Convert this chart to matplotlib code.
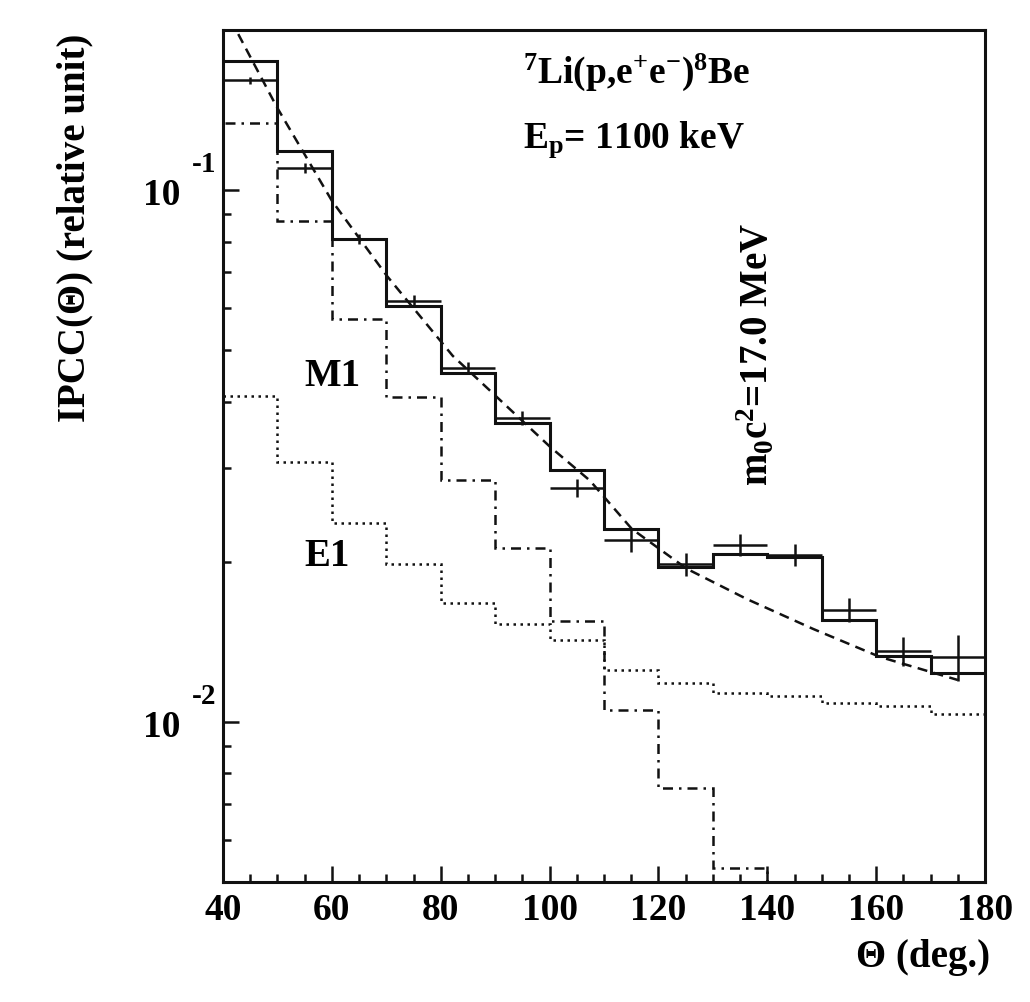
import matplotlib
matplotlib.use('Agg')
import matplotlib.pyplot as plt
import matplotlib.transforms as mtransforms
from matplotlib.ticker import MultipleLocator, LogLocator, NullFormatter
import numpy as np

plt.rcParams['font.family'] = ['Liberation Serif', 'DejaVu Serif']
plt.rcParams['font.weight'] = 'bold'
plt.rcParams['mathtext.fontset'] = 'custom'
plt.rcParams['mathtext.rm'] = 'Liberation Serif:bold'
plt.rcParams['mathtext.it'] = 'Liberation Serif:bold'
plt.rcParams['mathtext.bf'] = 'Liberation Serif:bold'

# bins in theta (deg.)
edges = [40, 50, 60, 70, 80, 90, 100, 110, 120, 130, 140, 150, 160, 170, 180]
centers = [45, 55, 65, 75, 85, 95, 105, 115, 125, 135, 145, 155, 165, 175]

# simulated total (solid histogram)
sim_total = [0.1748, 0.1182, 0.0809, 0.0606, 0.0453, 0.0365, 0.02977,
             0.02306, 0.01958, 0.02069, 0.02042, 0.01555, 0.01332, 0.01236]
# measured points
data = [0.1609, 0.1101, 0.0809, 0.0619, 0.0463, 0.0373, 0.02754,
        0.02198, 0.01982, 0.02154, 0.0206, 0.01624, 0.0136, 0.01325]
data_err = [0.0025, 0.0024, 0.0018, 0.0015, 0.0012, 0.0011, 0.0011,
            0.0011, 0.0010, 0.0010, 0.0010, 0.00085, 0.00085, 0.0013]
# M1 component (dash-dot), visible up to 140 deg
m1_vals = [0.1335, 0.0874, 0.0572, 0.0408, 0.0285, 0.02124, 0.01548,
           0.01053, 0.00751, 0.00532]
# E1 component (dotted)
e1_vals = [0.0410, 0.0308, 0.02366, 0.01982, 0.01674, 0.01528, 0.01426,
           0.01254, 0.01186, 0.01132, 0.01118, 0.01084, 0.01072, 0.01035]
# IPC curve without boson (dashed)
theta_fit = [42.8, 49.9, 60.0, 70.1, 82.2, 90.9, 100.1, 107.4, 115.1,
             125.2, 136.2, 148.4, 160.7, 175.0]
ipc_fit = [0.1965, 0.1432, 0.0955, 0.0690, 0.0488, 0.0403, 0.0329, 0.02844,
           0.02307, 0.01941, 0.01703, 0.01496, 0.01325, 0.01199]

W, H = 1030, 1002
fig = plt.figure(figsize=(W / 100, H / 100), dpi=100)
ax = fig.add_axes([223 / W, (H - 882) / H, 762 / W, 852 / H])


def fx(px):
    return px / W


def fy(py):
    return 1 - py / H


ax.stairs(sim_total, edges, color='#111111', lw=2.2, baseline=None)
ax.errorbar(centers, data, xerr=5, yerr=data_err, fmt='none',
            ecolor='#111111', elinewidth=1.8, capsize=0)
ax.stairs(m1_vals, edges[:len(m1_vals) + 1], color='#111111', lw=1.8,
          baseline=1e-4, ls=(0, (4, 2.4, 1, 2.4)))
ax.stairs(e1_vals, edges, color='#111111', lw=1.8, baseline=None,
          ls=(0, (1, 1.8)))
ax.plot(theta_fit, ipc_fit, color='#111111', lw=1.8, ls=(0, (4, 2.6)))

ax.set_yscale('log')
ax.set_xlim(40, 180)
ax.set_ylim(0.005, 0.2)

for s in ax.spines.values():
    s.set_linewidth(2.2)
    s.set_color('#111111')

ax.xaxis.set_major_locator(MultipleLocator(20))
ax.xaxis.set_minor_locator(MultipleLocator(5))
ax.yaxis.set_major_locator(LogLocator(base=10, numticks=10))
ax.yaxis.set_minor_locator(LogLocator(base=10, subs=np.arange(2, 10), numticks=20))
ax.yaxis.set_major_formatter(NullFormatter())
ax.yaxis.set_minor_formatter(NullFormatter())
ax.tick_params(which='both', direction='in', top=False, right=False,
               width=1.8, color='#111111')
ax.tick_params(which='major', length=11.5)
ax.tick_params(which='minor', length=5.5)
ax.tick_params(axis='x', labelsize=27, pad=8)

# ROOT style y labels: "10" below-left, exponent raised
ytr = mtransforms.blended_transform_factory(fig.transFigure, ax.transData)
for val, exp in [(0.1, '-1'), (0.01, '-2')]:
    base_off = mtransforms.ScaledTranslation(0, -15 / 100, fig.dpi_scale_trans)
    exp_off = mtransforms.ScaledTranslation(0, 18 / 100, fig.dpi_scale_trans)
    ax.text(fx(180), val, '10', transform=ytr + base_off, ha='right',
            va='baseline', fontsize=27)
    ax.text(fx(216), val, exp, transform=ytr + exp_off, ha='right',
            va='baseline', fontsize=21)

fig.text(fx(75), fy(34), 'IPCC(\u0398) (relative unit)', rotation=90,
         ha='center', va='top', fontsize=28)
fig.text(fx(990), fy(967), '\u0398 (deg.)', ha='right', va='baseline',
         fontsize=28)

fig.text(fx(523), fy(83), r'$^{7}$Li(p,e$^{+}$e$^{-}$)$^{8}$Be',
         ha='left', va='baseline', fontsize=27)
fig.text(fx(523), fy(148), r'E$_{\mathrm{p}}$= 1100 keV',
         ha='left', va='baseline', fontsize=27)
fig.text(fx(768), fy(355), r'm$_{0}$c$^{2}$=17.0 MeV', rotation=90,
         rotation_mode='anchor', ha='center', va='baseline', fontsize=28)
fig.text(fx(304), fy(386), 'M1', ha='left', va='baseline', fontsize=28)
fig.text(fx(304), fy(566), 'E1', ha='left', va='baseline', fontsize=28)

fig.savefig('out.png', dpi=100)
